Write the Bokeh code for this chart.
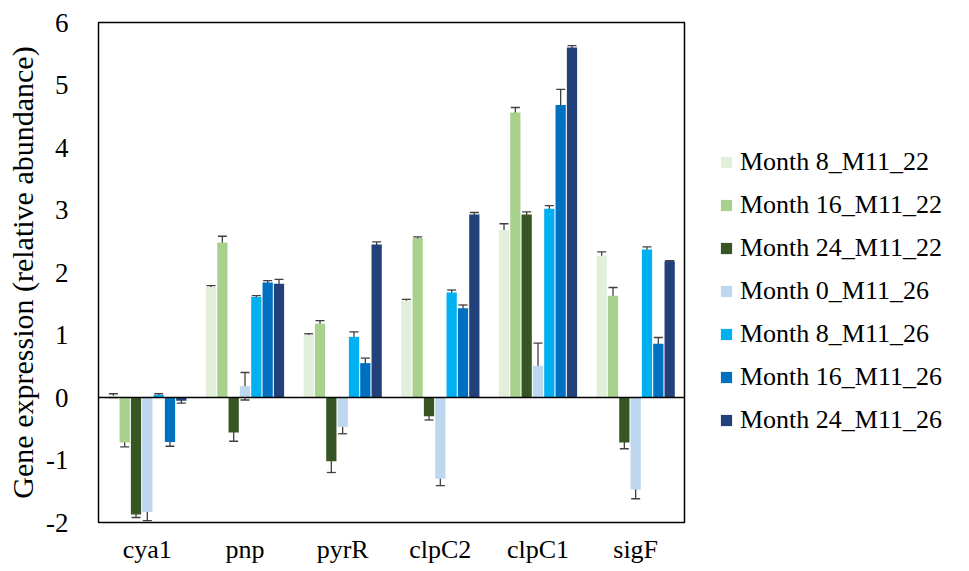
from bokeh.plotting import figure
from bokeh.models import (ColumnDataSource, FactorRange, Range1d, Whisker, TeeHead,
                          Span, Legend, LegendItem, FixedTicker, CustomJSTickFormatter)
from bokeh.transform import dodge
from bokeh.embed import file_html
from bokeh.resources import INLINE

categories = ["cya1", "pnp", "pyrR", "clpC2", "clpC1", "sigF"]
series_names = ["Month 8_M11_22", "Month 16_M11_22", "Month 24_M11_22",
                "Month 0_M11_26", "Month 8_M11_26", "Month 16_M11_26", "Month 24_M11_26"]

m8_22 = [0.03, 1.77, 1.00, 1.55, 2.68, 2.27]
m8_22_err = [0.03, 0.02, 0.02, 0.02, 0.10, 0.06]
m16_22 = [-0.72, 2.48, 1.18, 2.55, 4.56, 1.63]
m16_22_err = [0.07, 0.10, 0.05, 0.02, 0.08, 0.13]
m24_22 = [-1.87, -0.56, -1.02, -0.30, 2.93, -0.72]
m24_22_err = [0.05, 0.14, 0.18, 0.06, 0.04, 0.10]
m0_26 = [-1.83, 0.18, -0.47, -1.30, 0.51, -1.47]
m0_26_err = [0.14, 0.22, 0.11, 0.11, 0.36, 0.15]
m8_26 = [0.04, 1.61, 0.97, 1.68, 3.02, 2.37]
m8_26_err = [0.02, 0.02, 0.08, 0.04, 0.05, 0.04]
m16_26 = [-0.71, 1.84, 0.55, 1.43, 4.68, 0.86]
m16_26_err = [0.07, 0.03, 0.08, 0.05, 0.25, 0.10]
m24_26 = [-0.05, 1.82, 2.45, 2.93, 5.60, 2.18]
m24_26_err = [0.04, 0.07, 0.04, 0.03, 0.03, 0.01]

y_ticks = [-2, -1, 0, 1, 2, 3, 4, 5, 6]

values = [m8_22, m16_22, m24_22, m0_26, m8_26, m16_26, m24_26]
errors = [m8_22_err, m16_22_err, m24_22_err, m0_26_err, m8_26_err, m16_26_err, m24_26_err]
colors = ["#E2EFDA", "#A9D18E", "#375623", "#BDD7EE", "#00B0F0", "#0070C0", "#22407A"]

FONT = "Liberation Serif"

p = figure(frame_width=586, frame_height=500,
           x_range=FactorRange(*categories, range_padding=0),
           y_range=Range1d(-2, 6), output_backend="svg", toolbar_location=None,
           min_border_left=98, min_border_right=285, min_border_top=22, min_border_bottom=49)
p.x_range.factor_padding = 0
p.grid.visible = False
p.outline_line_color = "black"
p.outline_line_width = 1.5
p.background_fill_color = "white"
p.border_fill_color = "white"

step = 0.116
items = []
for i, (vals, errs, col, name) in enumerate(zip(values, errors, colors, series_names)):
    src = ColumnDataSource(dict(cat=categories, val=vals,
                                lo=[v - e for v, e in zip(vals, errs)],
                                hi=[v + e for v, e in zip(vals, errs)]))
    off = (i - 3) * step
    r = p.vbar(x=dodge("cat", off, range=p.x_range), top="val", bottom=0, width=0.105,
               source=src, fill_color=col, line_color=None)
    w = Whisker(base=dodge("cat", off, range=p.x_range), upper="hi", lower="lo", source=src,
                line_color="#404040", line_width=1.3,
                upper_head=TeeHead(size=9, line_color="#404040", line_width=1.3),
                lower_head=TeeHead(size=9, line_color="#404040", line_width=1.3))
    p.add_layout(w)
    items.append(LegendItem(label=name, renderers=[r]))

p.add_layout(Span(location=0, dimension="width", line_color="black", line_width=1.5))

p.yaxis.ticker = FixedTicker(ticks=y_ticks)
p.yaxis.formatter = CustomJSTickFormatter(code="return tick.toString();")
p.yaxis.axis_label = "Gene expression (relative abundance)"
for ax in (p.xaxis[0], p.yaxis[0]):
    ax.axis_line_color = None
    ax.major_tick_line_color = None
    ax.minor_tick_line_color = None
    ax.major_label_text_font = FONT
    ax.major_label_text_color = "black"
    ax.axis_label_text_font = FONT
    ax.axis_label_text_font_style = "normal"
    ax.axis_label_text_color = "black"
p.yaxis.major_label_text_font_size = "27px"
p.yaxis.major_label_standoff = 24
p.yaxis.axis_label_text_font_size = "30px"
p.yaxis.axis_label_standoff = 4
p.xaxis.major_label_text_font_size = "26px"
p.xaxis.major_label_standoff = 6

legend = Legend(items=items, location=(35, 87), orientation="vertical",
                glyph_width=14, glyph_height=14, label_text_font=FONT,
                label_text_font_size="26px", label_text_color="black",
                label_standoff=7, spacing=13, label_height=30, padding=0, margin=0,
                border_line_color=None, background_fill_alpha=0)
p.add_layout(legend, "right")

open("out.html", "w").write(file_html(p, INLINE))
